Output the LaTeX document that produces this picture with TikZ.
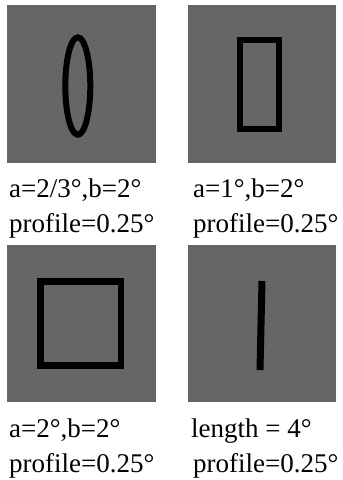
\documentclass[tikz,border=0pt]{standalone}
\usepackage{fontspec}
\setmainfont{Liberation Serif}
\definecolor{panelgray}{HTML}{666666}
\begin{document}
\begin{tikzpicture}[x=1pt,y=-1pt,
  panel/.style={fill=panelgray,draw=none},
  stroke/.style={draw=black,line width=6pt},
  caption/.style={anchor=base west,inner sep=0pt,font=\fontsize{27}{32}\selectfont}]
\useasboundingbox[fill=white] (0,0) rectangle (343,480);
% panels
\path[panel] (7,5) rectangle (156,163);
\path[panel] (188,5) rectangle (336,163);
\path[panel] (7,245) rectangle (156,402);
\path[panel] (188,245) rectangle (336,402);
% shapes
\draw[stroke] (77.8,86) ellipse [x radius=12.5, y radius=48.7];
\draw[stroke] (240.3,40.3) rectangle (279.3,129.3);
\draw[stroke,line width=6.7pt] (40.7,281.7) rectangle (121,365.7);
\coordinate (ltop) at (262,281);
\coordinate (lbot) at (260,370);
\draw[stroke,line width=7pt] (ltop) -- (lbot);
% captions
\node[caption] (t1a) at (9,197) {a=2/3°,b=2°};
\node[caption] (t1b) at (9,232) {profile=0.25°};
\node[caption] (t2a) at (193,197) {a=1°,b=2°};
\node[caption] (t2b) at (193,232) {profile=0.25°};
\node[caption] (t3a) at (9,437) {a=2°,b=2°};
\node[caption] (t3b) at (9,472) {profile=0.25°};
\node[caption] (t4a) at (191,437) {length = 4°};
\node[caption] (t4b) at (193,472) {profile=0.25°};
\end{tikzpicture}
\end{document}
